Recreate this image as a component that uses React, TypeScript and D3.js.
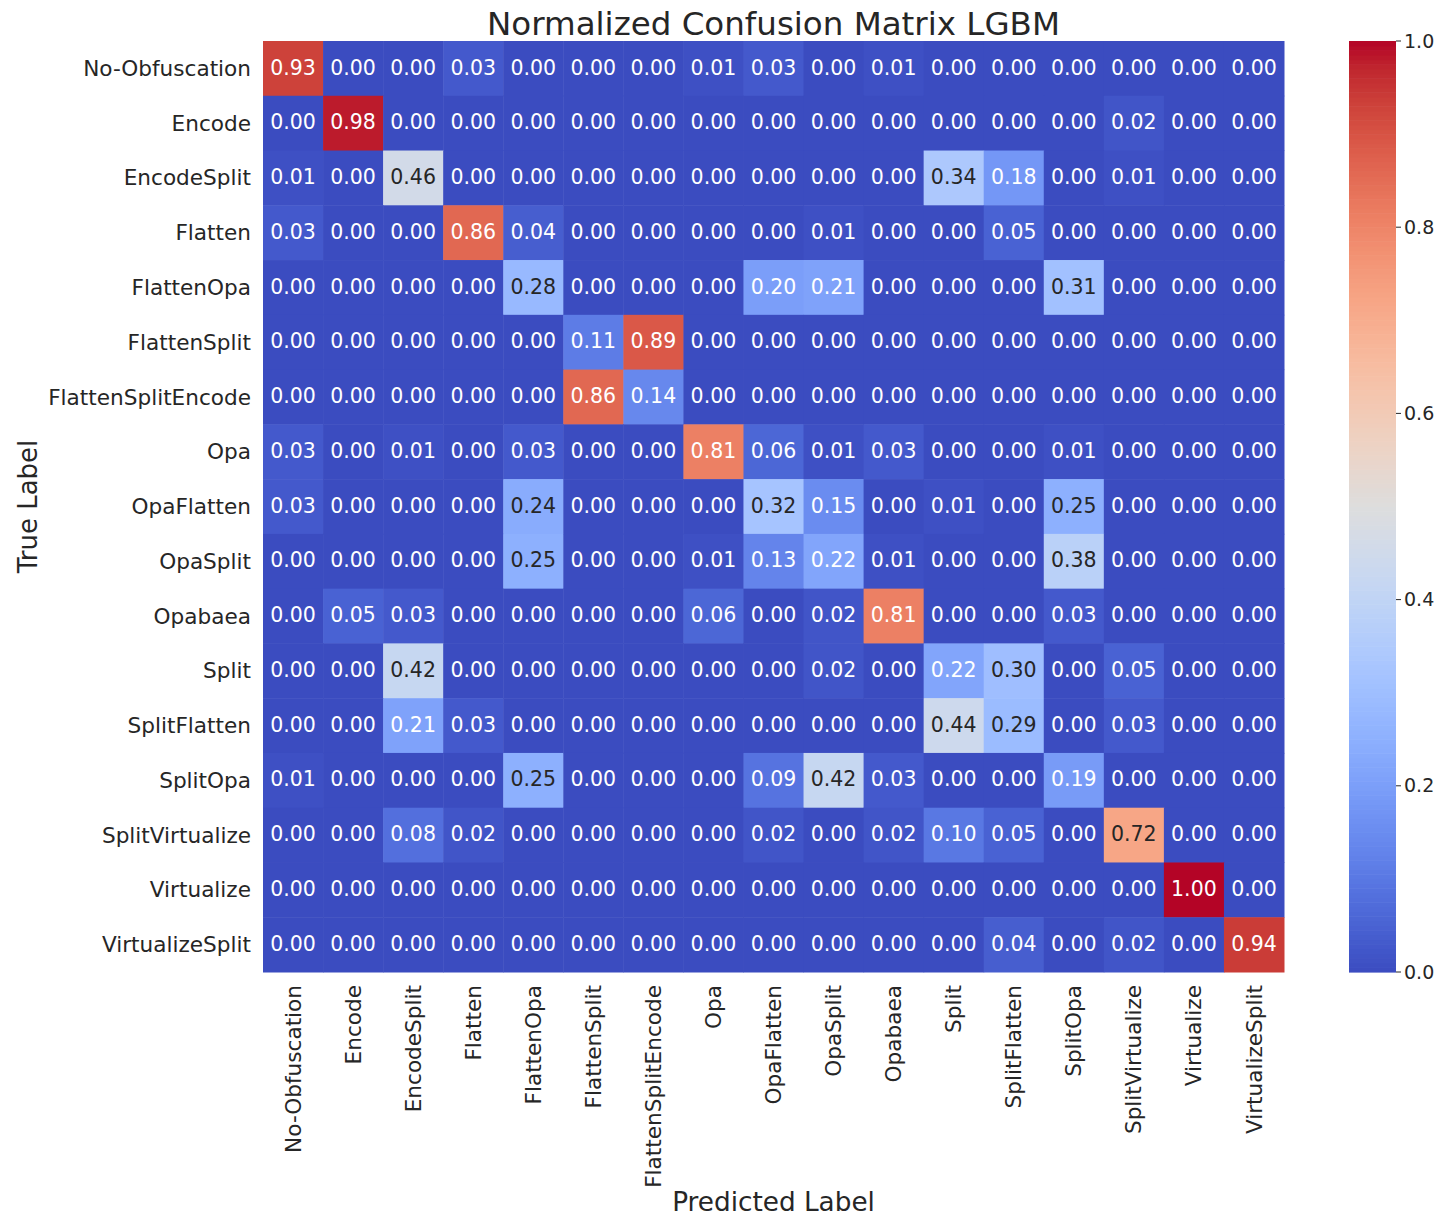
import React from "react";
import * as d3 from "d3";

const labels = [
  "No-Obfuscation", "Encode", "EncodeSplit", "Flatten", "FlattenOpa", "FlattenSplit",
  "FlattenSplitEncode", "Opa", "OpaFlatten", "OpaSplit", "Opabaea", "Split",
  "SplitFlatten", "SplitOpa", "SplitVirtualize", "Virtualize", "VirtualizeSplit",
];

// rows = true label, columns = predicted label
const matrix: number[][] = [
  [0.93, 0.00, 0.00, 0.03, 0.00, 0.00, 0.00, 0.01, 0.03, 0.00, 0.01, 0.00, 0.00, 0.00, 0.00, 0.00, 0.00],
  [0.00, 0.98, 0.00, 0.00, 0.00, 0.00, 0.00, 0.00, 0.00, 0.00, 0.00, 0.00, 0.00, 0.00, 0.02, 0.00, 0.00],
  [0.01, 0.00, 0.46, 0.00, 0.00, 0.00, 0.00, 0.00, 0.00, 0.00, 0.00, 0.34, 0.18, 0.00, 0.01, 0.00, 0.00],
  [0.03, 0.00, 0.00, 0.86, 0.04, 0.00, 0.00, 0.00, 0.00, 0.01, 0.00, 0.00, 0.05, 0.00, 0.00, 0.00, 0.00],
  [0.00, 0.00, 0.00, 0.00, 0.28, 0.00, 0.00, 0.00, 0.20, 0.21, 0.00, 0.00, 0.00, 0.31, 0.00, 0.00, 0.00],
  [0.00, 0.00, 0.00, 0.00, 0.00, 0.11, 0.89, 0.00, 0.00, 0.00, 0.00, 0.00, 0.00, 0.00, 0.00, 0.00, 0.00],
  [0.00, 0.00, 0.00, 0.00, 0.00, 0.86, 0.14, 0.00, 0.00, 0.00, 0.00, 0.00, 0.00, 0.00, 0.00, 0.00, 0.00],
  [0.03, 0.00, 0.01, 0.00, 0.03, 0.00, 0.00, 0.81, 0.06, 0.01, 0.03, 0.00, 0.00, 0.01, 0.00, 0.00, 0.00],
  [0.03, 0.00, 0.00, 0.00, 0.24, 0.00, 0.00, 0.00, 0.32, 0.15, 0.00, 0.01, 0.00, 0.25, 0.00, 0.00, 0.00],
  [0.00, 0.00, 0.00, 0.00, 0.25, 0.00, 0.00, 0.01, 0.13, 0.22, 0.01, 0.00, 0.00, 0.38, 0.00, 0.00, 0.00],
  [0.00, 0.05, 0.03, 0.00, 0.00, 0.00, 0.00, 0.06, 0.00, 0.02, 0.81, 0.00, 0.00, 0.03, 0.00, 0.00, 0.00],
  [0.00, 0.00, 0.42, 0.00, 0.00, 0.00, 0.00, 0.00, 0.00, 0.02, 0.00, 0.22, 0.30, 0.00, 0.05, 0.00, 0.00],
  [0.00, 0.00, 0.21, 0.03, 0.00, 0.00, 0.00, 0.00, 0.00, 0.00, 0.00, 0.44, 0.29, 0.00, 0.03, 0.00, 0.00],
  [0.01, 0.00, 0.00, 0.00, 0.25, 0.00, 0.00, 0.00, 0.09, 0.42, 0.03, 0.00, 0.00, 0.19, 0.00, 0.00, 0.00],
  [0.00, 0.00, 0.08, 0.02, 0.00, 0.00, 0.00, 0.00, 0.02, 0.00, 0.02, 0.10, 0.05, 0.00, 0.72, 0.00, 0.00],
  [0.00, 0.00, 0.00, 0.00, 0.00, 0.00, 0.00, 0.00, 0.00, 0.00, 0.00, 0.00, 0.00, 0.00, 0.00, 1.00, 0.00],
  [0.00, 0.00, 0.00, 0.00, 0.00, 0.00, 0.00, 0.00, 0.00, 0.00, 0.00, 0.00, 0.04, 0.00, 0.02, 0.00, 0.94],
];

const colorbarTicks = [0, 0.2, 0.4, 0.6, 0.8, 1.0];

// Moreland cool-warm diverging palette
const coolwarmStops = [
  "#3b4cc0", "#445acc", "#4d68d7", "#5775e1", "#6282ea", "#6c8ef1", "#779af7", "#82a5fb",
  "#8db0fe", "#98b9ff", "#a3c2ff", "#aec9fd", "#b8d0f9", "#c2d5f4", "#ccd9ee", "#d5dbe6",
  "#dddddd", "#e5d8d1", "#ecd3c5", "#f1ccb8", "#f5c4ac", "#f7bb9f", "#f7b193", "#f7a686",
  "#f49a7b", "#f18d6f", "#ec7f63", "#e57058", "#de604d", "#d55042", "#cb3e38", "#c0282f",
  "#b40426",
];

const W = 1445;
const H = 1216;
const left = 263;
const right = 1284;
const top = 41;
const bottom = 972;
const cbLeft = 1349;
const cbRight = 1396;
const font = "'DejaVu Sans', sans-serif";
const ink = "#262626";

const color = d3
  .scaleLinear<string>()
  .domain(coolwarmStops.map((_, i) => i / (coolwarmStops.length - 1)))
  .range(coolwarmStops)
  .interpolate(d3.interpolateRgb)
  .clamp(true);

function luminance(c: string): number {
  const rgb = d3.rgb(c);
  const lin = (v: number) => {
    const s = v / 255;
    return s <= 0.03928 ? s / 12.92 : Math.pow((s + 0.055) / 1.055, 2.4);
  };
  return 0.2126 * lin(rgb.r) + 0.7152 * lin(rgb.g) + 0.0722 * lin(rgb.b);
}

export default function App() {
  const x = d3.scaleBand<string>().domain(labels).range([left, right]);
  const y = d3.scaleBand<string>().domain(labels).range([top, bottom]);
  const cb = d3.scaleLinear().domain([0, 1]).range([bottom, top]);
  const cbSteps = d3.range(0, 200);

  return (
    <svg width={W} height={H} style={{ display: "block", position: "absolute", left: 0, top: 0, background: "#fff" }} fontFamily={font}>
      <text x={(left + right) / 2} y={35} textAnchor="middle" fontSize={32.5} fill={ink}>
        Normalized Confusion Matrix LGBM
      </text>

      {matrix.map((row, i) =>
        row.map((v, j) => {
          const fill = color(v);
          const tx = x(labels[j])! + x.bandwidth() / 2;
          const ty = y(labels[i])! + y.bandwidth() / 2;
          return (
            <g key={`${i}-${j}`}>
              <rect
                x={x(labels[j])!}
                y={y(labels[i])!}
                width={x.bandwidth() + 0.5}
                height={y.bandwidth() + 0.5}
                fill={fill}
              />
              <text
                x={tx}
                y={ty}
                dy="0.3em"
                textAnchor="middle"
                fontSize={20.5}
                fill={luminance(fill) > 0.408 ? ink : "#ffffff"}
              >
                {v.toFixed(2)}
              </text>
            </g>
          );
        })
      )}

      {labels.map((l) => (
        <text
          key={`y-${l}`}
          x={251}
          y={y(l)! + y.bandwidth() / 2}
          dy="0.35em"
          textAnchor="end"
          fontSize={21.6}
          fill={ink}
        >
          {l}
        </text>
      ))}

      {labels.map((l) => {
        const cx = x(l)! + x.bandwidth() / 2;
        return (
          <text
            key={`x-${l}`}
            transform={`translate(${cx},${985}) rotate(-90)`}
            dy="0.35em"
            textAnchor="end"
            fontSize={21.6}
            fill={ink}
          >
            {l}
          </text>
        );
      })}

      <text x={(left + right) / 2} y={1211} textAnchor="middle" fontSize={26.3} fill={ink}>
        Predicted Label
      </text>
      <text
        transform={`translate(${37},${(top + bottom) / 2}) rotate(-90)`}
        textAnchor="middle"
        fontSize={26}
        fill={ink}
      >
        True Label
      </text>

      {/* colour bar */}
      {cbSteps.map((k) => {
        const v0 = k / cbSteps.length;
        const v1 = (k + 1) / cbSteps.length;
        return (
          <rect
            key={`cb-${k}`}
            x={cbLeft}
            y={cb(v1)}
            width={cbRight - cbLeft}
            height={cb(v0) - cb(v1) + 0.6}
            fill={color((v0 + v1) / 2)}
          />
        );
      })}
      {colorbarTicks.map((t) => (
        <g key={`cbt-${t}`}>
          <line x1={cbRight} x2={cbRight + 5} y1={cb(t)} y2={cb(t)} stroke={ink} strokeWidth={1} />
          <text x={cbRight + 8} y={cb(t)} dy="0.35em" fontSize={19} fill={ink}>
            {t.toFixed(1)}
          </text>
        </g>
      ))}
    </svg>
  );
}
